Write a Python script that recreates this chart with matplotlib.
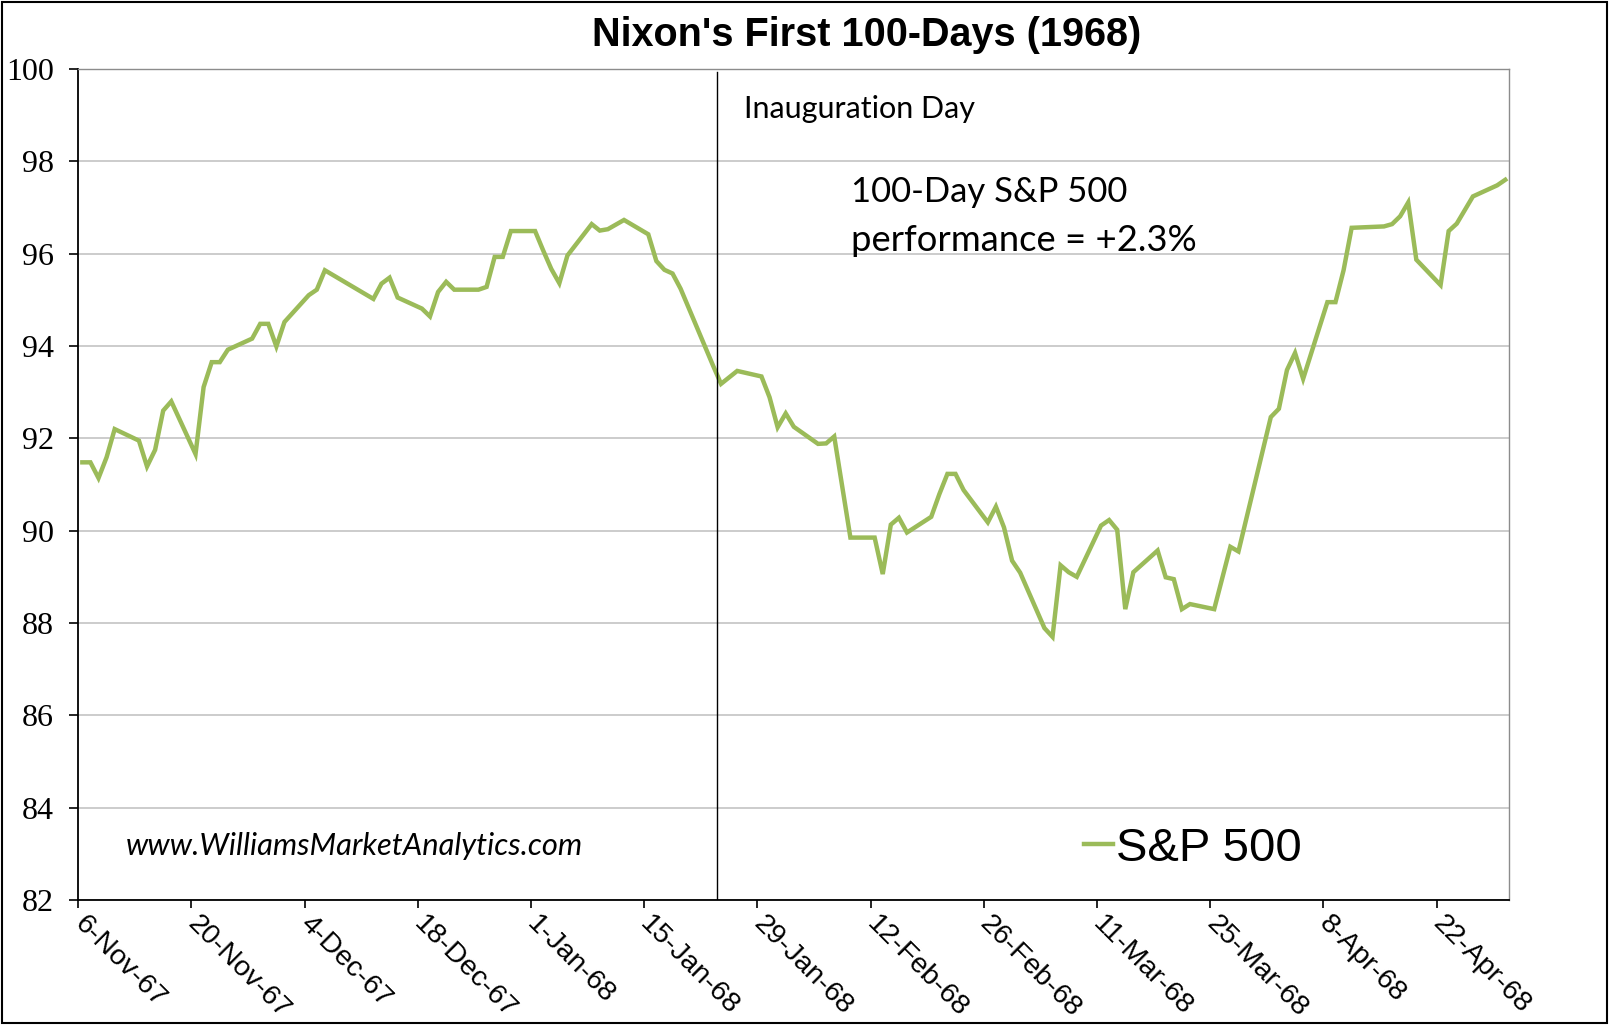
import matplotlib
matplotlib.use("Agg")
import matplotlib.pyplot as plt
import matplotlib.dates as mdates
from matplotlib.lines import Line2D
from matplotlib.patches import Rectangle
import numpy as np
import pandas as pd

# S&P 500 closes (vertices of the line)
dates = [
    "1967-11-06", "1967-11-07", "1967-11-08", "1967-11-09", "1967-11-10",
    "1967-11-13", "1967-11-14", "1967-11-15", "1967-11-16", "1967-11-17",
    "1967-11-20", "1967-11-21", "1967-11-22", "1967-11-23", "1967-11-24",
    "1967-11-27", "1967-11-28", "1967-11-29", "1967-11-30", "1967-12-01",
    "1967-12-04", "1967-12-05", "1967-12-06", "1967-12-12", "1967-12-13",
    "1967-12-14", "1967-12-15", "1967-12-18", "1967-12-19", "1967-12-20",
    "1967-12-21", "1967-12-22", "1967-12-25", "1967-12-26", "1967-12-27",
    "1967-12-28", "1967-12-29", "1968-01-01", "1968-01-02", "1968-01-03",
    "1968-01-04", "1968-01-05", "1968-01-08", "1968-01-09", "1968-01-10",
    "1968-01-12", "1968-01-15", "1968-01-16", "1968-01-17", "1968-01-18",
    "1968-01-19", "1968-01-23", "1968-01-24", "1968-01-26", "1968-01-29",
    "1968-01-30", "1968-01-31", "1968-02-01", "1968-02-02", "1968-02-05",
    "1968-02-06", "1968-02-07", "1968-02-09", "1968-02-12", "1968-02-13",
    "1968-02-14", "1968-02-15", "1968-02-16", "1968-02-19", "1968-02-20",
    "1968-02-21", "1968-02-22", "1968-02-23", "1968-02-26", "1968-02-27",
    "1968-02-28", "1968-02-29", "1968-03-01", "1968-03-04", "1968-03-05",
    "1968-03-06", "1968-03-07", "1968-03-08", "1968-03-11", "1968-03-12",
    "1968-03-13", "1968-03-14", "1968-03-15", "1968-03-18", "1968-03-19",
    "1968-03-20", "1968-03-21", "1968-03-22", "1968-03-25", "1968-03-27",
    "1968-03-28", "1968-04-01", "1968-04-02", "1968-04-03", "1968-04-04",
    "1968-04-05", "1968-04-08", "1968-04-09", "1968-04-10", "1968-04-11",
    "1968-04-15", "1968-04-16", "1968-04-17", "1968-04-18", "1968-04-19",
    "1968-04-22", "1968-04-23", "1968-04-24", "1968-04-26", "1968-04-29",
    "1968-04-30",
]
sp500 = [
    91.48, 91.48, 91.14, 91.59, 92.20,
    91.95, 91.39, 91.75, 92.60, 92.80,
    91.66, 93.11, 93.65, 93.65, 93.92,
    94.16, 94.48, 94.48, 93.99, 94.52,
    95.10, 95.22, 95.64, 95.02, 95.35,
    95.48, 95.05, 94.81, 94.64, 95.17,
    95.39, 95.22, 95.22, 95.28, 95.93,
    95.93, 96.49, 96.49, 96.07, 95.67,
    95.36, 95.96, 96.64, 96.50, 96.53,
    96.73, 96.42, 95.84, 95.65, 95.57,
    95.24, 93.58, 93.18, 93.46, 93.34,
    92.89, 92.24, 92.54, 92.25, 91.88,
    91.89, 92.04, 89.85, 89.85, 89.06,
    90.13, 90.28, 89.96, 90.30, 90.79,
    91.23, 91.23, 90.88, 90.18, 90.52,
    90.07, 89.35, 89.09, 87.89, 87.70,
    89.25, 89.10, 89.00, 90.11, 90.23,
    90.02, 88.30, 89.10, 89.57, 88.99,
    88.95, 88.30, 88.41, 88.30, 89.65,
    89.55, 92.46, 92.64, 93.48, 93.85,
    93.29, 94.95, 94.95, 95.64, 96.56,
    96.59, 96.64, 96.81, 97.11, 95.87,
    95.32, 96.49, 96.65, 97.24, 97.48,
    97.60,
]
tick_dates = pd.date_range("1967-11-06", "1968-04-22", freq="14D")
inauguration = "1968-01-24"
y_ticks = list(range(82, 101, 2))

W, H = 1609, 1025
fig = plt.figure(figsize=(W / 100, H / 100), dpi=100)
ax = fig.add_axes([78.3 / W, 1 - 900 / H, (1509.3 - 78.3) / W, (900 - 69) / H])

# Excel draws each day in the middle of its day slot
x = mdates.date2num(pd.to_datetime(dates)) + 0.5
green = "#9BBB59"
ax.plot(x, sp500, color=green, lw=3.2, solid_joinstyle="miter", label="S&P 500")

ax.set_xlim(mdates.date2num(pd.Timestamp("1967-11-06")),
            mdates.date2num(pd.Timestamp("1968-05-01")))
ax.set_ylim(82, 100)
ax.set_yticks(y_ticks)
ax.set_xticks(mdates.date2num(tick_dates))
ax.xaxis.set_major_formatter(mdates.DateFormatter("%-d-%b-%y"))
ax.yaxis.grid(True, color="#BFBFBF", lw=1.1)
ax.set_axisbelow(True)

ax.axvline(mdates.date2num(pd.Timestamp(inauguration)), ymin=0, ymax=0.996,
           color="black", lw=1)

for s in ["top", "right"]:
    ax.spines[s].set_color("#8C8C8C")
    ax.spines[s].set_linewidth(1)
for s in ["left", "bottom"]:
    ax.spines[s].set_color("black")
    ax.spines[s].set_linewidth(1.3)

ax.tick_params(axis="y", direction="out", length=6.5, width=1.2, pad=11,
               labelsize=23, labelfontfamily="Liberation Serif")
ax.tick_params(axis="x", direction="out", length=5.5, width=1.2, pad=9,
               labelsize=20.5, labelfontfamily="Liberation Sans")
for lab in ax.get_xticklabels():
    lab.set_rotation(-45)
    lab.set_ha("left")
    lab.set_va("center")
    lab.set_rotation_mode("anchor")

renderer = fig.canvas.get_renderer()


def fit_width(t, width_px):
    w = t.get_window_extent(renderer).width
    t.set_fontsize(t.get_fontsize() * width_px / w)


def fx(px):
    return px / W


def fy(py):
    return 1 - py / H


title = fig.text(fx(867), fy(46), "Nixon's First 100-Days (1968)", ha="center",
                 va="baseline", fontsize=28.5, fontweight="bold",
                 family=["Liberation Sans"])
fit_width(title, 549)

calibri = ["Lato", "DejaVu Sans"]
t1 = fig.text(fx(744), fy(118), "Inauguration Day", fontsize=22,
              family=calibri, va="baseline")
fit_width(t1, 231)
t2 = fig.text(fx(851), fy(202), "100-Day S&P 500", fontsize=26,
              family=calibri, va="baseline")
fit_width(t2, 277)
t3 = fig.text(fx(851), fy(251), "performance = +2.3%", fontsize=26,
              family=calibri, va="baseline")
fit_width(t3, 345)
t4 = fig.text(fx(126), fy(855), "www.WilliamsMarketAnalytics.com", fontsize=21,
              family=calibri, style="italic", va="baseline")
fit_width(t4, 456)

handle = Line2D([], [], color=green, lw=3.2)
ax.legend([handle], ["S&P 500"], loc="center left",
          bbox_to_anchor=(fx(1084), fy(849)), bbox_transform=fig.transFigure,
          frameon=False, prop={"family": "Liberation Sans", "size": 34},
          handlelength=0.62, handletextpad=0.05, borderpad=0, borderaxespad=0)

fig.patches.append(Rectangle((fx(2), fy(1023)), fx(1605), 1 - fy(1021) - 0,
                             transform=fig.transFigure, fill=False,
                             edgecolor="black", lw=1.5))

fig.savefig("out.png", dpi=100)
